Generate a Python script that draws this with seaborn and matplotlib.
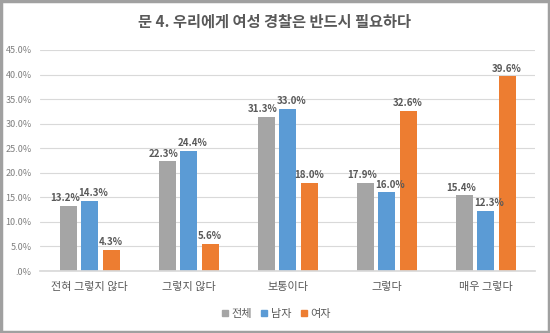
import matplotlib
matplotlib.use("Agg")
import matplotlib.pyplot as plt
import seaborn as sns
import pandas as pd
from matplotlib.patches import Rectangle

categories = ["전혀 그렇지 않다", "그렇지 않다", "보통이다", "그렇다", "매우 그렇다"]
series_names = ["전체", "남자", "여자"]
total = [13.2, 22.3, 31.3, 17.9, 15.4]
male = [14.3, 24.4, 33.0, 16.0, 12.3]
female = [4.3, 5.6, 18.0, 32.6, 39.6]
ytick_vals = [0, 5, 10, 15, 20, 25, 30, 35, 40, 45]
ytick_labels = [".0%", "5.0%", "10.0%", "15.0%", "20.0%", "25.0%", "30.0%", "35.0%", "40.0%", "45.0%"]
title = "문 4. 우리에게 여성 경찰은 반드시 필요하다"
colors = ["#A5A5A5", "#5B9BD5", "#ED7D31"]

sns.set_theme(style="white")
plt.rcParams["font.family"] = ["Noto Sans CJK KR", "DejaVu Sans"]

rows = []
for name, vals in zip(series_names, [total, male, female]):
    for c, v in zip(categories, vals):
        rows.append({"category": c, "series": name, "value": v})
df = pd.DataFrame(rows)

fig = plt.figure(figsize=(5.5, 3.33), dpi=100)
ax = fig.add_axes([0.073, 0.186, 0.9, 0.664])

sns.barplot(data=df, x="category", y="value", hue="series", order=categories,
            hue_order=series_names, palette=colors, width=0.65, gap=0.2,
            ax=ax, saturation=1, legend=False, linewidth=0)

ax.set_ylim(0, 45)
ax.set_yticks(ytick_vals)
ax.set_yticklabels(ytick_labels, fontsize=6.5, color="#7F7F7F")
ax.yaxis.grid(True, color="#D9D9D9", linewidth=0.8)
ax.set_axisbelow(True)
for s in ["top", "right", "left"]:
    ax.spines[s].set_visible(False)
ax.spines["bottom"].set_color("#D9D9D9")
ax.tick_params(axis="both", length=0)
ax.tick_params(axis="x", pad=8, labelsize=8, labelcolor="#595959")
ax.tick_params(axis="y", pad=6)
ax.set_xlabel("")
ax.set_ylabel("")
ax.set_xlim(-0.5, len(categories) - 0.5)

dx = [-2.5, 2.5, 0]
for cont, off in zip(ax.containers, dx):
    anns = ax.bar_label(cont, labels=[f"{b.get_height():.1f}%" for b in cont],
                        fontsize=7, color="#595959", fontweight="bold", padding=2)
    for a in anns:
        a.xyann = (off, 2)

fig.text(0.5, 0.935, title, ha="center", va="center", fontsize=11,
         fontweight="bold", color="#595959")

handles = [plt.Line2D([], [], marker="s", linestyle="", markersize=4.5,
                      markerfacecolor=c, markeredgecolor=c) for c in colors]
fig.legend(handles, series_names, loc="center", bbox_to_anchor=(0.5, 0.056),
           ncol=3, frameon=False, fontsize=8, handletextpad=0.1,
           columnspacing=0.6, handlelength=1.0, labelcolor="#595959")

fig.patches.append(Rectangle((0.002, 0.003), 0.996, 0.994, transform=fig.transFigure,
                             fill=False, edgecolor="#A0A0A0", linewidth=2.5))

fig.savefig("out.png", dpi=100)
